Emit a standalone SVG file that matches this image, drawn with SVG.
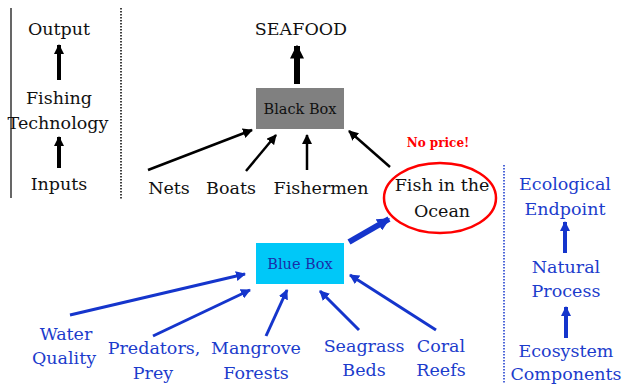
<svg xmlns="http://www.w3.org/2000/svg" width="622" height="384" viewBox="0 0 622 384">
<style>
text{font-family:"DejaVu Serif","Liberation Serif",serif;text-anchor:middle;}
.k{fill:#111;font-size:17.5px;}
.b{fill:#1c3ccc;font-size:17.5px;}
.ka{stroke:#000;fill:none;}
.ba{stroke:#1535cc;fill:none;}
</style>
<defs>
<marker id="hk" viewBox="0 0 10 10" refX="9" refY="5" markerWidth="10" markerHeight="10" markerUnits="userSpaceOnUse" orient="auto"><path d="M0,0L10,5L0,10z" fill="#000"/></marker>
<marker id="hkL" viewBox="0 0 10 10" refX="9" refY="5" markerWidth="14" markerHeight="14" markerUnits="userSpaceOnUse" orient="auto"><path d="M0,0L10,5L0,10z" fill="#000"/></marker>
<marker id="hb" viewBox="0 0 10 10" refX="9" refY="5" markerWidth="10" markerHeight="10" markerUnits="userSpaceOnUse" orient="auto"><path d="M0,0L10,5L0,10z" fill="#1535cc"/></marker>
<marker id="hbL" viewBox="0 0 10 10" refX="9" refY="5" markerWidth="13" markerHeight="13" markerUnits="userSpaceOnUse" orient="auto"><path d="M0,0L10,5L0,10z" fill="#1535cc"/></marker>
</defs>
<g id="dividers">
<line x1="11" y1="8" x2="11" y2="198" stroke="#000" stroke-width="1.2"/>
<line x1="121" y1="8" x2="121" y2="200" stroke="#000" stroke-width="1.5" stroke-dasharray="1.5 1.5"/>
<line x1="504" y1="165" x2="504" y2="384" stroke="#1535cc" stroke-width="1.5" stroke-dasharray="1.5 1.5"/>
</g>
<g id="connectors">
<line class="ka" x1="59" y1="80" x2="59" y2="45" stroke-width="4" marker-end="url(#hk)"/>
<line class="ka" x1="59" y1="168" x2="59" y2="137" stroke-width="4" marker-end="url(#hk)"/>
<line class="ka" x1="297" y1="84" x2="297" y2="46" stroke-width="6" marker-end="url(#hkL)"/>
<line class="ka" x1="148" y1="170" x2="252" y2="130" stroke-width="2.5" marker-end="url(#hk)"/>
<line class="ka" x1="246" y1="171" x2="276" y2="135" stroke-width="2.5" marker-end="url(#hk)"/>
<line class="ka" x1="307" y1="170" x2="307" y2="135" stroke-width="2.5" marker-end="url(#hk)"/>
<line class="ka" x1="390" y1="167" x2="349" y2="131" stroke-width="2.5" marker-end="url(#hk)"/>
<line class="ba" x1="349" y1="242" x2="389" y2="219" stroke-width="6" marker-end="url(#hbL)"/>
<line class="ba" x1="70" y1="315" x2="245" y2="274" stroke-width="3" marker-end="url(#hb)"/>
<line class="ba" x1="153" y1="336" x2="250" y2="290" stroke-width="3" marker-end="url(#hb)"/>
<line class="ba" x1="266" y1="336" x2="287" y2="290" stroke-width="3" marker-end="url(#hb)"/>
<line class="ba" x1="359" y1="330" x2="320" y2="291" stroke-width="3" marker-end="url(#hb)"/>
<line class="ba" x1="436" y1="330" x2="350" y2="275" stroke-width="3" marker-end="url(#hb)"/>
<line class="ba" x1="565" y1="253" x2="565" y2="222" stroke-width="4" marker-end="url(#hb)"/>
<line class="ba" x1="566" y1="338" x2="566" y2="307" stroke-width="4" marker-end="url(#hb)"/>
</g>
<g id="output"><text class="k" x="59" y="35">Output</text></g>
<g id="fishing-technology"><text class="k" x="59" y="104">Fishing</text><text class="k" x="58" y="129" font-size="18.5">Technology</text></g>
<g id="inputs"><text class="k" x="59" y="190">Inputs</text></g>
<g id="seafood"><text class="k" x="301" y="35" font-size="16.8">SEAFOOD</text></g>
<g id="black-box"><rect x="256" y="88" width="88" height="41" fill="#808080"/><text x="300" y="114" font-size="14.5" fill="#111">Black Box</text></g>
<g id="nets"><text class="k" x="169" y="194">Nets</text></g>
<g id="boats"><text class="k" x="231" y="194">Boats</text></g>
<g id="fishermen"><text class="k" x="321" y="194">Fishermen</text></g>
<g id="fish-in-ocean"><ellipse cx="440" cy="198" rx="56" ry="35" fill="none" stroke="#f00" stroke-width="2.5"/><text class="k" x="442" y="191">Fish in the</text><text class="k" x="442" y="217">Ocean</text></g>
<g id="no-price"><text x="438" y="147" font-size="12" font-weight="bold" fill="#f00">No price!</text></g>
<g id="blue-box"><rect x="256" y="243" width="88" height="41" fill="#00c8f8"/><text x="300" y="269" font-size="14.5" fill="#1a2fa8">Blue Box</text></g>
<g id="water-quality"><text class="b" x="66" y="340">Water</text><text class="b" x="64" y="364">Quality</text></g>
<g id="predators-prey"><text class="b" x="154" y="354">Predators,</text><text class="b" x="153" y="379">Prey</text></g>
<g id="mangrove"><text class="b" x="256" y="354">Mangrove</text><text class="b" x="256" y="379">Forests</text></g>
<g id="seagrass"><text class="b" x="364" y="352">Seagrass</text><text class="b" x="364" y="376">Beds</text></g>
<g id="coral"><text class="b" x="441" y="352">Coral</text><text class="b" x="441" y="376">Reefs</text></g>
<g id="ecological-endpoint"><text class="b" x="565" y="190">Ecological</text><text class="b" x="565" y="215">Endpoint</text></g>
<g id="natural-process"><text class="b" x="566" y="273">Natural</text><text class="b" x="566" y="297">Process</text></g>
<g id="ecosystem-components"><text class="b" x="566" y="357">Ecosystem</text><text class="b" x="566" y="380">Components</text></g>
</svg>
